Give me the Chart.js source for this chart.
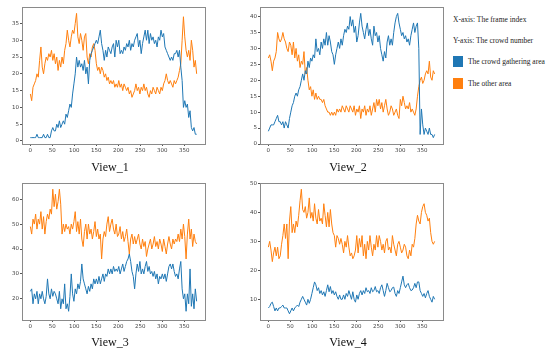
<!DOCTYPE html>
<html>
<head>
<meta charset="utf-8">
<script src="https://cdn.jsdelivr.net/npm/chart.js@4.4.1/dist/chart.umd.min.js"></script>
<style>
  body { margin: 0; background: #fff; width: 550px; height: 354px; overflow: hidden; position: relative; }
  canvas { position: absolute; }
  .title { position: absolute; font-family: "Liberation Serif", "Times New Roman", serif; font-size: 12px; color: #111; transform: translate(-50%, -50%); white-space: nowrap; }
  .note { position: absolute; font-family: "Liberation Serif", "Times New Roman", serif; font-size: 7.5px; color: #222; white-space: nowrap; transform: translateY(-50%); }
  .swatch { position: absolute; width: 10px; height: 11px; }
</style>
</head>
<body>
<canvas id="v1" width="215" height="160" style="left:0;top:0"></canvas>
<canvas id="v2" width="215" height="160" style="left:238px;top:0"></canvas>
<canvas id="v3" width="215" height="160" style="left:0;top:176px"></canvas>
<canvas id="v4" width="215" height="160" style="left:238px;top:176px"></canvas>

<div class="title" style="left:110px;top:167px">View_1</div>
<div class="title" style="left:348px;top:167px">View_2</div>
<div class="title" style="left:110px;top:342px">View_3</div>
<div class="title" style="left:348px;top:342px">View_4</div>

<div class="note" style="left:453px;top:19px">X-axis: The frame index</div>
<div class="note" style="left:453px;top:40px">Y-axis: The crowd number</div>
<div class="swatch" style="left:453px;top:56px;background:#1f77b4"></div>
<div class="note" style="left:468px;top:61px">The crowd gathering area</div>
<div class="swatch" style="left:453px;top:78px;background:#ff7f0e"></div>
<div class="note" style="left:468px;top:83px">The other area</div>

<script>
// values read every 3rd frame
const frameStep = 3;
const xTicks = [0, 50, 100, 150, 200, 250, 300, 350];

const view1YTicks = [0, 5, 10, 15, 20, 25, 30, 35];
const view2YTicks = [0, 5, 10, 15, 20, 25, 30, 35, 40];
const view3YTicks = [20, 30, 40, 50, 60];
const view4YTicks = [10, 20, 30, 40, 50];

const view1Crowd = [1,1,1,1,1,2,1,1,1,1,2,1,1,2,1,1,3,4,3,3,5,4,6,4,5,6,5,8,7,9,11,10,14,17,20,25,22,24,22,23,21,24,20,22,17,24,26,27,28,29,30,29,31,33,29,27,24,27,25,28,27,26,28,29,25,30,28,30,26,27,26,28,27,29,28,30,27,29,28,30,31,32,28,30,26,29,31,33,30,33,29,32,30,31,29,30,28,31,30,33,31,32,28,27,26,25,24,25,24,26,26,27,25,27,22,18,10,12,10,11,7,9,4,3,4,2,2];
const view1Other = [14,12,16,17,18,20,19,24,28,22,20,23,25,24,26,25,27,24,26,23,25,21,24,22,25,23,27,29,33,30,28,31,33,32,35,38,31,29,32,30,27,31,32,25,23,26,25,28,29,27,23,21,22,20,22,21,19,20,18,19,17,18,17,18,16,17,16,18,16,17,15,17,16,15,16,14,15,13,14,15,17,15,16,14,16,15,17,15,16,14,13,15,14,16,15,14,16,15,14,16,15,17,18,20,18,17,18,17,16,18,17,18,19,21,23,30,37,31,27,25,27,24,30,27,22,24,20];

const view2Crowd = [4,5,6,6,6,7,8,9,7,7,6,7,5,7,6,5,8,10,12,13,15,16,15,17,18,20,22,20,23,22,26,24,27,26,28,27,33,29,30,28,32,30,33,31,35,31,34,32,29,28,25,28,30,32,30,33,31,34,36,35,37,36,40,37,39,35,37,32,34,38,41,37,35,33,36,38,34,36,33,31,37,34,35,32,34,30,28,26,29,27,32,34,31,33,31,35,38,40,41,38,36,34,35,33,34,32,33,31,34,36,38,35,37,38,30,3,11,6,3,5,4,3,5,3,3,2,3];
const view2Other = [27,28,26,23,26,27,29,35,33,32,33,35,33,32,30,29,32,31,28,32,27,30,26,28,24,26,25,29,22,24,20,17,18,15,17,14,16,14,15,14,14,13,14,12,11,10,10,9,10,9,10,9,11,10,11,10,12,11,10,12,11,10,12,11,10,12,9,11,10,12,8,11,10,12,9,11,10,12,9,11,13,10,14,12,14,11,13,10,12,14,11,9,10,12,11,9,10,11,9,8,14,12,15,13,11,12,11,13,10,11,10,9,11,15,18,20,21,19,20,22,23,22,26,21,20,23,22];

const view3Crowd = [23,24,18,22,20,23,18,22,20,23,20,18,21,28,22,20,24,21,23,22,20,18,23,16,20,18,26,16,18,15,21,30,22,19,24,22,26,24,27,34,28,26,24,22,25,23,26,24,28,26,28,26,29,26,28,30,27,30,29,32,30,32,30,33,31,32,31,33,30,32,34,31,33,35,36,38,35,31,29,24,30,34,31,35,30,32,30,33,35,31,33,30,31,29,31,28,30,26,29,28,30,28,30,27,30,33,34,32,34,31,29,30,28,32,35,24,20,22,15,22,18,32,17,22,16,24,19];
const view3Other = [49,46,52,50,54,48,52,50,55,48,53,46,51,54,52,56,54,64,57,62,56,59,64,58,46,50,47,50,48,49,46,50,48,51,55,47,51,46,52,44,41,47,50,44,50,46,48,44,47,51,45,48,44,46,36,44,47,45,50,53,47,50,52,48,46,50,45,46,49,44,47,43,45,48,43,38,44,46,42,45,42,44,46,42,40,44,41,43,37,40,42,44,40,42,45,41,43,40,44,42,39,44,41,38,42,45,42,40,44,42,44,43,46,43,48,44,50,45,36,46,52,44,48,41,46,43,42];

const view4Crowd = [7,7.5,8.6,9,7.5,6,7,6,7,7,7.5,8,7,7,7,6,5,6,7,6,7,7.5,8,7.5,9,10,11,10,9,8,10,8.6,10,12,14,16,15,13,14,12,13,11.5,12.6,11,13,15,12.6,14.4,12,13,11.5,12.6,11,10,11.5,10,10,11.5,10,12,11,13,11.5,10,12.6,10,9,11.5,10,12,13,11.5,13,12,14,12.6,13,12,14,12.6,13,14.4,12.6,13,12,14,15,13,11,13,15.5,14,12.6,13,14,14.2,12,11,13,12,14,16,18,15,14,15,15.5,14,13,13.2,14,15.5,14,16,16,13,12,11,12,10.5,12,13,11,10,9,11,10];
const view4Other = [28,30,27,23,26,28,25,28,24,25,29,32,36,31,36,24,37,42,33,36,33,37,35,39,44,48,41,40,42,38,40,45,38,40,37,43,38,36,41,37,38,36,43,39,35,40,35,41,36,33,32,28,32,31,29,31,29,26,30,28,32,28,25,26,24,25,27,32,26,31,28,32,25,29,24,30,27,32,28,25,29,27,32,28,32,30,27,29,26,30,31,27,28,26,32,29,27,25,29,30,28,26,27,29,28,25,24,27,25,29,28,31,36,39,37,36,40,42,43,40,39,37,38,33,30,29,30];

const crowdColor = '#1f77b4';
const otherColor = '#ff7f0e';

function toPoints(values) {
  return values.map((v, i) => ({ x: i * frameStep, y: v }));
}

const frameBox = {
  id: 'frameBox',
  afterDraw(chart) {
    const a = chart.chartArea;
    const ctx = chart.ctx;
    ctx.save();
    ctx.strokeStyle = '#8a8a8a';
    ctx.lineWidth = 1;
    ctx.strokeRect(Math.round(a.left) + 0.5, Math.round(a.top) + 0.5,
      Math.round(a.right - a.left), Math.round(a.bottom - a.top));
    ctx.restore();
  }
};

const tickFont = { family: '"DejaVu Sans", sans-serif', size: 5.5 };

function makeView(id, crowd, other, yMin, yMax, yTicks) {
  return new Chart(document.getElementById(id), {
    type: 'line',
    data: {
      datasets: [
        { label: 'The crowd gathering area', data: toPoints(crowd), borderColor: crowdColor, borderWidth: 1, pointRadius: 0, fill: false },
        { label: 'The other area', data: toPoints(other), borderColor: otherColor, borderWidth: 1, pointRadius: 0, fill: false }
      ]
    },
    options: {
      responsive: false,
      animation: false,
      layout: { padding: { top: 7, right: 10, left: 0, bottom: 0 } },
      scales: {
        x: {
          type: 'linear',
          min: -19,
          max: 397,
          afterBuildTicks: s => { s.ticks = xTicks.map(v => ({ value: v })); },
          afterFit: s => { s.height = 16; },
          grid: { drawOnChartArea: false, drawTicks: true, tickLength: 2, color: '#555' },
          border: { display: false },
          ticks: { font: tickFont, color: '#444', padding: 1, maxRotation: 0, autoSkip: false }
        },
        y: {
          min: yMin,
          max: yMax,
          afterBuildTicks: s => { s.ticks = yTicks.map(v => ({ value: v })); },
          afterFit: s => { s.width = 22; },
          grid: { drawOnChartArea: false, drawTicks: true, tickLength: 2, color: '#555' },
          border: { display: false },
          ticks: { font: tickFont, color: '#444', padding: 1, autoSkip: false }
        }
      },
      plugins: {
        legend: { display: false },
        tooltip: { enabled: false }
      }
    },
    plugins: [frameBox]
  });
}

makeView('v1', view1Crowd, view1Other, -0.9, 39.9, view1YTicks);
makeView('v2', view2Crowd, view2Other, 0, 43, view2YTicks);
makeView('v3', view3Crowd, view3Other, 11.5, 66.5, view3YTicks);
makeView('v4', view4Crowd, view4Other, 2.85, 50.15, view4YTicks);
</script>
</body>
</html>
